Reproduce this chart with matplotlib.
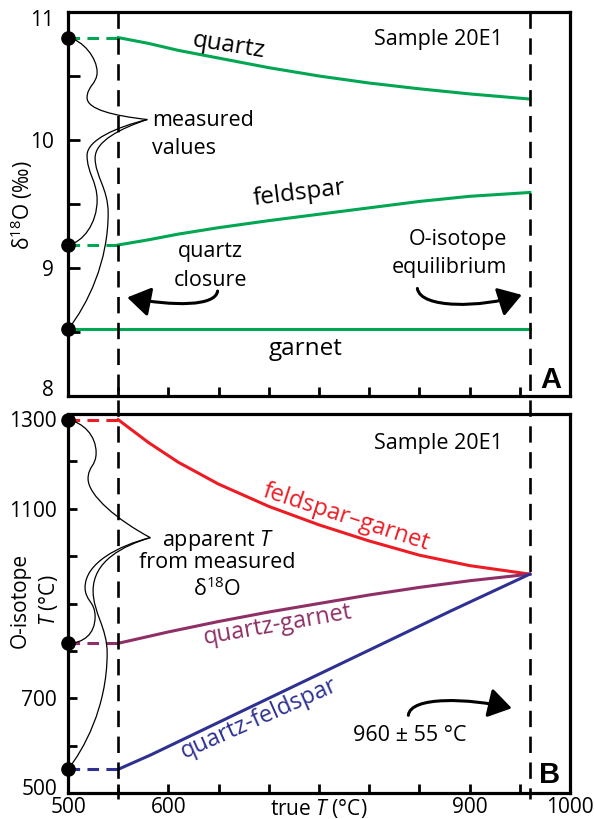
import matplotlib
matplotlib.use('Agg')
import matplotlib.pyplot as plt
from matplotlib.lines import Line2D
from matplotlib.path import Path
from matplotlib.patches import PathPatch, FancyArrowPatch
from matplotlib.ticker import FixedLocator, FixedFormatter
import matplotlib.transforms as mtransforms

plt.rcParams['font.family'] = ['Open Sans', 'DejaVu Sans']
plt.rcParams['mathtext.fontset'] = 'custom'
plt.rcParams['mathtext.rm'] = 'Open Sans'
plt.rcParams['mathtext.it'] = 'Open Sans:italic'
plt.rcParams['mathtext.bf'] = 'Open Sans:bold'

# ---------------- data ----------------
T_measured = 500          # x position of measured values
T_closure = 550           # quartz closure
T_equil = 960             # O-isotope equilibrium

# Panel A: d18O vs true T
qz_T = [550, 580, 610, 650, 700, 750, 800, 850, 900, 960]
qz_d18O = [10.80, 10.755, 10.70, 10.64, 10.565, 10.50, 10.445, 10.40, 10.36, 10.32]
fsp_T = [550, 580, 610, 650, 700, 750, 800, 850, 900, 960]
fsp_d18O = [9.18, 9.22, 9.265, 9.315, 9.37, 9.42, 9.47, 9.52, 9.56, 9.59]
grt_T = [500, 960]
grt_d18O = [8.52, 8.52]

# Panel B: apparent O-isotope T vs true T
fg_T = [550, 580, 610, 650, 700, 750, 800, 850, 900, 960]
fg_app = [1288, 1240, 1198, 1152, 1105, 1066, 1032, 1002, 980, 962]
qg_T = [550, 600, 650, 700, 750, 800, 850, 900, 960]
qg_app = [816, 840, 862, 882, 900, 918, 934, 948, 962]
qf_T = [550, 582, 882, 960]
qf_app = [550, 580, 885, 962]

xticks = [500, 550, 600, 650, 700, 750, 800, 850, 900, 950, 1000]
xticklabels_B = ['500', '', '600', '', '', r'true $T$ (°C)', '', '', '900', '', '1000']
yticks_A = [8, 8.5, 9, 9.5, 10, 10.5, 11]
yticklabels_A = ['8', '', '9', '', '10', '', '11']
yticks_B = [500, 600, 700, 800, 900, 1000, 1100, 1200, 1300]
yticklabels_B = ['500', '', '700', '', '', '', '1100', '', '1300']

GREEN = '#00A651'
RED = '#ED1C24'
PURPLE = '#8E2F66'
BLUE = '#2E3192'

FS_TICK = 15
FS_LBL = 17.5
FS_ANN = 15.5

fig = plt.figure(figsize=(5.94, 8.19), dpi=100)
axA = fig.add_axes([68/594, 1-396/819, 502/594, 384/819])
axB = fig.add_axes([68/594, 1-793/819, 502/594, 379/819])

for ax in (axA, axB):
    ax.set_xlim(500, 1000)
    for s in ax.spines.values():
        s.set_linewidth(2.3)
    ax.xaxis.set_major_locator(FixedLocator(xticks))
    ax.tick_params(axis='both', direction='in', width=2.0, labelsize=FS_TICK,
                   top=False, right=False, pad=8)
    ax.tick_params(axis='x', length=6.5)

axA.set_ylim(8, 11)
axB.set_ylim(500, 1300)
axA.yaxis.set_major_locator(FixedLocator(yticks_A))
axA.yaxis.set_major_formatter(FixedFormatter(yticklabels_A))
axA.tick_params(axis='y', length=8.5, pad=10)
axA.xaxis.set_major_formatter(FixedFormatter([''] * len(xticks)))
axB.yaxis.set_major_locator(FixedLocator(yticks_B))
axB.yaxis.set_major_formatter(FixedFormatter(yticklabels_B))
axB.tick_params(axis='y', length=6.5, pad=8)
axB.xaxis.set_major_formatter(FixedFormatter(xticklabels_B))
axB.tick_params(axis='x', pad=3)

# nudge end tick labels as in the reference (avoid crowding between panels)
def nudge(ax, index, dy_px):
    tick = ax.yaxis.get_major_ticks()[index]
    tick.label1.set_transform(tick.label1.get_transform() +
                              mtransforms.ScaledTranslation(0, dy_px / 100, fig.dpi_scale_trans))

nudge(axA, 0, 8)      # '8' up
nudge(axA, 6, -6)     # '11' down
nudge(axB, 0, 6)      # '500' up
nudge(axB, 8, -5)     # '1300' down

lw = 2.2
dash_col = (0, (3.8, 2.4))

def series(ax, T, v, color):
    ax.plot([T_measured, T[0]], [v[0], v[0]], color=color, lw=lw, ls=dash_col,
            solid_capstyle='butt', zorder=3)
    ax.plot(T, v, color=color, lw=lw, zorder=3, solid_joinstyle='round')
    ax.plot([T_measured], [v[0]], 'o', color='black', ms=9.5, clip_on=False, zorder=6)

series(axA, qz_T, qz_d18O, GREEN)
series(axA, fsp_T, fsp_d18O, GREEN)
axA.plot(grt_T, grt_d18O, color=GREEN, lw=lw, zorder=3)
axA.plot([T_measured], [grt_d18O[0]], 'o', color='black', ms=9.5, clip_on=False, zorder=6)

series(axB, fg_T, fg_app, RED)
series(axB, qg_T, qg_app, PURPLE)
series(axB, qf_T, qf_app, BLUE)

# vertical dashed lines spanning both panels
trans = mtransforms.blended_transform_factory(axA.transData, fig.transFigure)
for xv in (T_closure, T_equil):
    fig.add_artist(Line2D([xv, xv], [1-12/819, 1-799/819], transform=trans,
                          color='black', lw=1.9, ls=(0, (6.2, 3.6)), zorder=2))

# bracket curves
def bracket(ax, pts):
    codes = [Path.MOVETO] + [Path.CURVE4] * (len(pts) - 1)
    ax.add_patch(PathPatch(Path(pts, codes), fc='none', ec='black', lw=0.9,
                           clip_on=False, zorder=4))

tipA = (579, 10.16)
bracket(axA, [(500, 10.80), (515, 10.78), (529, 10.64), (529, 10.53),
              (529, 10.44), (519, 10.42), (519, 10.33),
              (519, 10.24), (545, 10.19), tipA])
bracket(axA, [tipA, (548, 10.10), (519, 10.00), (519, 9.88),
              (519, 9.74), (529, 9.68), (529, 9.53),
              (529, 9.35), (515, 9.20), (500, 9.18)])
bracket(axA, [tipA, (552, 10.09), (527, 9.99), (527, 9.86),
              (527, 9.72), (540, 9.62), (540, 9.43),
              (540, 9.05), (520, 8.72), (500, 8.52)])

tipB = (582, 1039)
bracket(axB, [(500, 1288), (515, 1282), (528, 1255), (528, 1218),
              (528, 1190), (520, 1190), (520, 1163),
              (520, 1128), (550, 1075), tipB])
bracket(axB, [tipB, (550, 1022), (517, 985), (517, 934),
              (517, 905), (527, 905), (527, 872),
              (527, 835), (515, 816), (500, 816)])
bracket(axB, [tipB, (555, 1022), (525, 990), (525, 927),
              (525, 880), (539, 850), (539, 795),
              (539, 680), (515, 590), (500, 550)])

# curved arrows (cubic Bezier path + filled head)
def arrow(ax, pts):
    p = Path(pts, [Path.MOVETO, Path.CURVE4, Path.CURVE4, Path.CURVE4])
    ax.add_patch(FancyArrowPatch(path=p,
                                 arrowstyle='-|>,head_length=0.7,head_width=0.45',
                                 mutation_scale=20, lw=2.2, color='black',
                                 shrinkA=0, shrinkB=0, zorder=5))

arrow(axA, [(649, 8.82), (647, 8.70), (605, 8.70), (559, 8.77)])
arrow(axA, [(848, 8.84), (851, 8.68), (912, 8.69), (952, 8.79)])
arrow(axB, [(839, 664), (841, 705), (900, 700), (942, 679)])

# texts
def t(ax, x, y, s, size=FS_ANN, ha='center', rot=0, color='black', **kw):
    ax.text(x, y, s, fontsize=size, ha=ha, va='baseline', rotation=rot,
            rotation_mode='anchor', color=color, **kw)

t(axA, 659, 10.69, 'quartz', FS_LBL, rot=-9)
t(axA, 731, 9.535, 'feldspar', FS_LBL, rot=7)
t(axA, 737, 8.32, 'garnet', FS_LBL)
t(axA, 933, 10.74, 'Sample 20E1', ha='right')
t(axA, 584, 10.11, 'measured', ha='left')
t(axA, 584, 9.89, 'values', ha='left')
t(axA, 642, 9.083, 'quartz')
t(axA, 642, 8.857, 'closure')
t(axA, 937, 9.177, 'O-isotope', ha='right')
t(axA, 937, 8.96, 'equilibrium', ha='right')
axA.text(981, 8.062, 'A', fontsize=21, fontweight='bold', ha='center', va='baseline',
         family=['Liberation Sans', 'DejaVu Sans'])

t(axB, 933, 1226, 'Sample 20E1', ha='right')
t(axB, 775, 1070, 'feldspar–garnet', 17, rot=-18, color=RED)
t(axB, 710, 841, 'quartz-garnet', 17, rot=10, color=PURPLE)
t(axB, 693, 645, 'quartz-feldspar', 17, rot=24, color=BLUE)
t(axB, 649, 1022, r'apparent $T$')
t(axB, 649, 974, 'from measured')
t(axB, 649, 915, r'δ$^{18}$O')
t(axB, 840, 609, '960 ± 55 °C')
axB.text(980, 521, 'B', fontsize=21, fontweight='bold', ha='center', va='baseline',
         family=['Liberation Sans', 'DejaVu Sans'])

# axis labels
fig.text(22/594, 1-205/819, r'δ$^{18}$O (‰)', fontsize=FS_TICK, rotation=90,
         ha='center', va='center')
fig.text(35/594, 1-600/819, 'O-isotope\n' + r'$T$ (°C)', fontsize=FS_TICK, rotation=90,
         ha='center', va='center', multialignment='center', linespacing=1.35)

fig.savefig('out.png', dpi=100)
